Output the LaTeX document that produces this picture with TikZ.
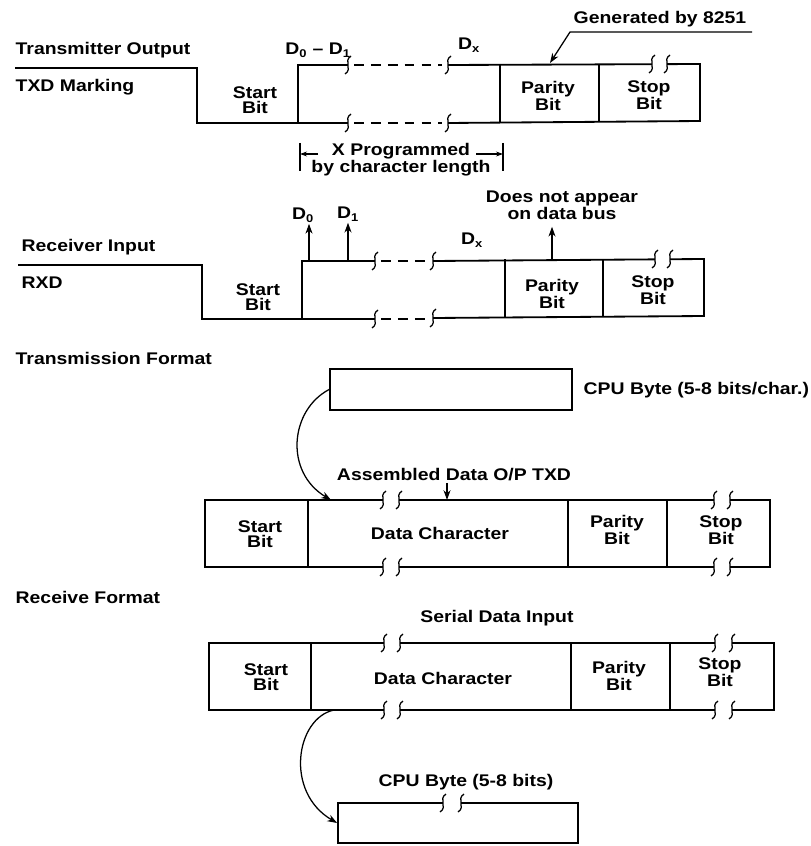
\documentclass[tikz,border=0pt]{standalone}
\usepackage{fontspec}
\usepackage{tikz}
\usetikzlibrary{arrows.meta}
\newfontfamily\lblfont{Liberation Sans}[FakeStretch=1.15]

% break symbol on a line, and a pair of them with a gap
\newcommand{\brkmark}[2]{\draw[brk,shift={(#1,#2)}] (3,-9) .. controls (-5,-4) and (5,4) .. (-3,9);}
\newcommand{\brkpair}[3]{\fill[white] (#1,#3-3) rectangle (#2,#3+3);
  \brkmark{#1}{#3}\brkmark{#2}{#3}}

\begin{document}
\begin{tikzpicture}[x=0.025cm,y=-0.025cm,
      every node/.style={font=\lblfont\bfseries\fontsize{12}{11}\selectfont,inner sep=1pt,align=center},
      wave/.style={line width=1.3pt},
      frame/.style={line width=1.2pt},
      brk/.style={line width=0.9pt},
      dashline/.style={wave,dash pattern=on 7pt off 5pt},
      arr/.style={line width=0.9pt,-{Stealth[length=7pt,width=5pt]}},
      dimarr/.style={line width=0.8pt,-{Stealth[length=5pt,width=3.5pt]}},
  ]
  \useasboundingbox (0,0) rectangle (810,846);

  % ---- transmitter output
  \node[anchor=west] (txout) at (14,50) {Transmitter Output};
  \node[anchor=west] (txmark) at (14,87) {TXD Marking};
  \draw[wave] (15,68) -- (197,68) -- (197,123) -- (348,123);
  \draw[wave] (298,123) -- (298,65) -- (348,65);
  \draw[dashline] (354,65) -- (442,65);
  \draw[dashline] (354,123) -- (442,123);
  \draw[wave] (448,123) -- (700,121) -- (700,64) -- (448,65);
  \draw[wave] (500,64) -- (500,122) (599,64) -- (599,121);
  \brkmark{348}{65}\brkmark{448}{65}
  \brkmark{348}{123}\brkmark{448}{123}
  \brkpair{652}{667}{64}

  \node (txstart) at (255,100) {Start\\Bit};
  \node (txpar) at (548,96) {Parity\\Bit};
  \node (txstop) at (649,95) {Stop\\Bit};
  \node (txd01) at (318,50) {D\textsubscript{0} \textendash{} D\textsubscript{1}};
  \node (txdx) at (469,45) {D\textsubscript{x}};

  % parity generated by the chip
  \node (gen) at (660,19) {Generated by 8251};
  \coordinate (genR) at (752,32);
  \coordinate (genL) at (570,32);
  \coordinate (txparTop) at (550,63);
  \draw[arr] (genR) -- (genL) -- (txparTop);

  % programmed length
  \coordinate (dimL) at (300,154);
  \coordinate (dimR) at (503,154);
  \draw[line width=0.8pt] (300,143) -- (300,171) (503,143) -- (503,171);
  \draw[dimarr] (dimL) ++(18,0) -- (dimL);
  \draw[dimarr] (dimR) ++(-27,0) -- (dimR);
  \node (xprog) at (401,160) {X Programmed\\by character length};

  % ---- receiver input
  \node[anchor=west] (rxin) at (20,247) {Receiver Input};
  \node[anchor=west] (rxd) at (20,283) {RXD};
  \draw[wave] (18,265) -- (202,265) -- (202,319) -- (375,319);
  \draw[wave] (302,319) -- (302,261) -- (375,261);
  \draw[dashline] (381,261) -- (428,261);
  \draw[dashline] (381,319) -- (428,319);
  \draw[wave] (433,318) -- (704,316) -- (704,259) -- (433,261);
  \draw[wave] (505,259) -- (505,317) (603,259) -- (603,316);
  \brkmark{375}{261}\brkmark{433}{261}
  \brkmark{375}{319}\brkmark{433}{318}
  \brkpair{655}{670}{259}

  \node (rxstart) at (258,297) {Start\\Bit};
  \node (rxpar) at (552,294) {Parity\\Bit};
  \node (rxstop) at (653,290) {Stop\\Bit};
  \node (rxd0) at (303,215) {D\textsubscript{0}};
  \node (rxd1) at (348,214) {D\textsubscript{1}};
  \node (rxdx) at (472,240) {D\textsubscript{x}};
  \node (nobus) at (562,205) {Does not appear\\on data bus};

  \coordinate (d0) at (309,261);
  \coordinate (d1) at (348,261);
  \coordinate (rxparTop) at (552,259);
  \draw[arr] (d0) -- (d0 |- rxd0.south);
  \draw[arr] (d1) -- (rxd1.south);
  \draw[arr] (rxparTop) -- ([yshift=-4pt]rxparTop |- nobus.south);

  % ---- transmission format
  \node[anchor=west] (txfmt) at (14,358) {Transmission Format};
  \node[draw,frame,minimum width=6.05cm,minimum height=1.025cm] (cpuT) at (451,389.5) {};
  \node[anchor=west] (cpuTlbl) at (582,390) {CPU Byte (5-8 bits/char.)};

  \draw[frame] (205,500) rectangle (770,567);
  \foreach \x in {308,568,667}
    \draw[frame] (\x,500) -- (\x,567);
  \brkpair{383}{399}{500}\brkpair{383}{399}{567}
  \brkpair{714}{730}{500}\brkpair{714}{730}{567}

  \node (tfstart) at (260,534) {Start\\Bit};
  \node (tfdata) at (440,533) {Data Character};
  \node (tfpar) at (617,530) {Parity\\Bit};
  \node (tfstop) at (721,530) {Stop\\Bit};

  \node (asm) at (454,475) {Assembled Data O/P TXD};
  \coordinate (asmTip) at (447,500);
  \coordinate (txdStart) at (331,500);
  \draw[arr] (asm.south -| asmTip) -- (asmTip);
  \draw[arr] (cpuT.west) .. controls (290,410) and (284,472) .. (txdStart);

  % ---- receive format
  \node[anchor=west] (rxfmt) at (14,597) {Receive Format};
  \node (serin) at (497,618) {Serial Data Input};

  \draw[frame] (209,643) rectangle (774,710);
  \foreach \x in {311,571,670}
    \draw[frame] (\x,643) -- (\x,710);
  \brkpair{384}{400}{643}\brkpair{384}{400}{710}
  \brkpair{715}{732}{643}\brkpair{715}{732}{710}

  \node (rfstart) at (266,677) {Start\\Bit};
  \node (rfdata) at (443,678) {Data Character};
  \node (rfpar) at (619,676) {Parity\\Bit};
  \node (rfstop) at (720,672) {Stop\\Bit};

  \node (cpuRlbl) at (466,782) {CPU Byte (5-8 bits)};
  \node[draw,frame,minimum width=6cm,minimum height=1cm] (cpuR) at (458,823) {};
  \brkpair{443}{461}{803}

  \coordinate (rxdEnd) at (334,710);
  \draw[arr] (rxdEnd) .. controls (296,718) and (284,792) .. (cpuR.west);
\end{tikzpicture}
\end{document}
